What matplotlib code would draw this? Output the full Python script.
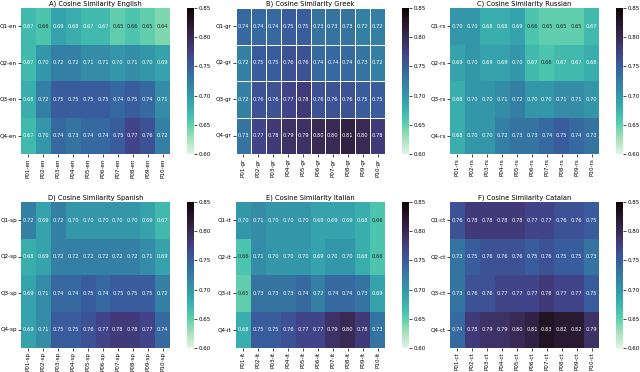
import numpy as np
import matplotlib
matplotlib.use('Agg')
import matplotlib.pyplot as plt
import seaborn as sns

# similarity values, rows Q1..Q4, columns P01..P10
english = [[0.67, 0.66, 0.69, 0.68, 0.67, 0.67, 0.65, 0.66, 0.65, 0.64],
           [0.67, 0.70, 0.72, 0.72, 0.71, 0.71, 0.70, 0.71, 0.70, 0.69],
           [0.68, 0.72, 0.75, 0.75, 0.75, 0.75, 0.74, 0.75, 0.74, 0.71],
           [0.67, 0.70, 0.74, 0.73, 0.74, 0.74, 0.75, 0.77, 0.76, 0.72]]
greek = [[0.74, 0.74, 0.74, 0.75, 0.75, 0.73, 0.73, 0.73, 0.72, 0.72],
         [0.72, 0.75, 0.75, 0.76, 0.76, 0.74, 0.74, 0.74, 0.73, 0.72],
         [0.72, 0.76, 0.76, 0.77, 0.78, 0.76, 0.76, 0.76, 0.75, 0.75],
         [0.73, 0.77, 0.78, 0.79, 0.79, 0.80, 0.80, 0.81, 0.80, 0.78]]
russian = [[0.70, 0.70, 0.68, 0.68, 0.69, 0.66, 0.65, 0.65, 0.65, 0.67],
           [0.69, 0.70, 0.69, 0.69, 0.70, 0.67, 0.66, 0.67, 0.67, 0.68],
           [0.68, 0.70, 0.70, 0.71, 0.72, 0.70, 0.70, 0.71, 0.71, 0.70],
           [0.68, 0.70, 0.70, 0.72, 0.73, 0.73, 0.74, 0.75, 0.74, 0.73]]
spanish = [[0.72, 0.69, 0.72, 0.70, 0.70, 0.70, 0.70, 0.70, 0.69, 0.67],
           [0.68, 0.69, 0.72, 0.72, 0.72, 0.72, 0.72, 0.72, 0.71, 0.69],
           [0.69, 0.71, 0.74, 0.74, 0.75, 0.74, 0.75, 0.75, 0.75, 0.72],
           [0.69, 0.71, 0.75, 0.75, 0.76, 0.77, 0.78, 0.78, 0.77, 0.74]]
italian = [[0.70, 0.71, 0.70, 0.70, 0.70, 0.69, 0.69, 0.69, 0.68, 0.66],
           [0.66, 0.71, 0.70, 0.70, 0.70, 0.69, 0.70, 0.70, 0.68, 0.66],
           [0.65, 0.73, 0.73, 0.73, 0.74, 0.72, 0.74, 0.74, 0.73, 0.69],
           [0.68, 0.75, 0.75, 0.76, 0.77, 0.77, 0.79, 0.80, 0.78, 0.73]]
catalan = [[0.76, 0.78, 0.78, 0.78, 0.78, 0.77, 0.77, 0.76, 0.76, 0.75],
           [0.73, 0.75, 0.76, 0.76, 0.76, 0.75, 0.76, 0.75, 0.75, 0.73],
           [0.73, 0.76, 0.76, 0.77, 0.77, 0.77, 0.78, 0.77, 0.77, 0.75],
           [0.74, 0.78, 0.79, 0.79, 0.80, 0.81, 0.83, 0.82, 0.82, 0.79]]

panels = [('A) Cosine Similarity English', english, 'en'),
          ('B) Cosine Similarity Greek', greek, 'gr'),
          ('C) Cosine Similarity Russian', russian, 'rs'),
          ('D) Cosine Similarity Spanish', spanish, 'sp'),
          ('E) Cosine Similarity Italian', italian, 'it'),
          ('F) Cosine Similarity Catalan', catalan, 'ct')]

W, H = 640, 372
fig = plt.figure(figsize=(6.4, 3.72), dpi=100)

lefts = [21, 236, 450]
tops = [8, 202]
hw, hh = 149, 146

for i, (title, vals, code) in enumerate(panels):
    r, c = divmod(i, 3)
    x0, y0 = lefts[c], tops[r]
    ax = fig.add_axes([x0 / W, 1 - (y0 + hh) / H, hw / W, hh / H])
    cax = fig.add_axes([(x0 + 166) / W, 1 - (y0 + hh) / H, 7 / W, hh / H])
    xl = ['P%02d-%s' % (k + 1, code) for k in range(10)]
    yl = ['Q%d-%s' % (k + 1, code) for k in range(4)]
    lw = 0.6 if code == 'gr' else 0
    sns.heatmap(np.array(vals), ax=ax, cbar_ax=cax, cmap='mako_r', vmin=0.6, vmax=0.85,
                annot=True, fmt='.2f', annot_kws={'fontsize': 3.7},
                xticklabels=xl, yticklabels=yl, linewidths=lw, linecolor='white')
    ax.set_title(title, fontsize=4.9, pad=2)
    ax.tick_params(axis='both', labelsize=4.1, length=2, width=0.5, pad=1)
    plt.setp(ax.get_xticklabels(), rotation=90)
    plt.setp(ax.get_yticklabels(), rotation=0)
    cax.set_yticks([0.60, 0.65, 0.70, 0.75, 0.80, 0.85])
    cax.tick_params(labelsize=4.0, length=2, width=0.5, pad=1)

fig.savefig('out.png', dpi=100)
